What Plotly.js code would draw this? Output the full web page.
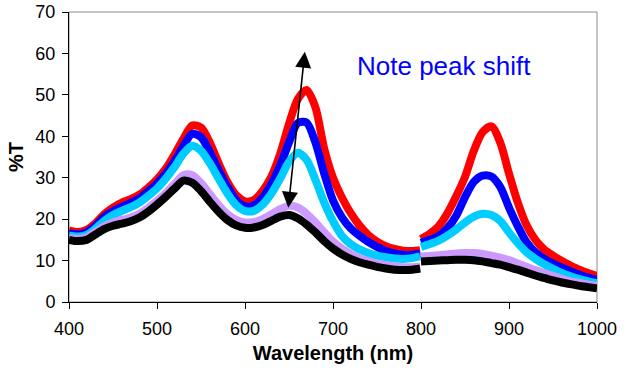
<!DOCTYPE html>
<html>
<head>
<meta charset="utf-8">
<script src="https://cdn.plot.ly/plotly-3.0.1.min.js"></script>
<style>html,body{margin:0;padding:0;background:#fff;}#chart{width:627px;height:370px;}</style>
</head>
<body>
<div id="chart"></div>
<script>
// Wavelength grid (nm); null entry separates the two detector ranges
const wavelength = [400,410,420,430,440,450,460,470,480,490,500,510,520,530,540,550,560,570,580,590,600,610,620,630,640,650,660,670,680,690,700,710,720,730,740,750,760,770,780,790,799,799.5,800,810,820,830,840,850,860,870,880,890,900,910,920,930,940,950,960,970,980,990,1000];

const redT = [17.3,16.9,17.4,19.0,21.2,22.8,24.0,24.8,25.9,27.6,29.6,32.2,35.6,39.4,42.6,42.1,38.5,33.5,29.0,25.8,24.3,24.6,26.8,30.3,35.8,43.0,49.0,51.2,47.0,37.0,30.0,25.3,21.5,18.5,16.2,14.6,13.5,12.8,12.4,12.3,12.5,null,15.2,16.5,18.3,21.4,25.5,30.2,36.5,41.0,42.4,38.5,31.0,24.0,18.5,15.0,12.7,11.2,9.9,8.8,7.8,7.0,6.3];

const blueT = [16.6,16.3,16.8,18.4,20.5,21.9,23.0,23.9,25.0,26.7,28.6,31.0,34.0,37.6,40.6,39.8,36.2,31.8,27.8,24.6,23.1,23.3,25.2,28.5,33.0,38.5,43.2,43.3,38.5,31.0,24.5,20.5,17.8,16.0,14.5,13.3,12.3,11.7,11.4,11.4,11.7,null,14.3,15.0,15.9,17.8,20.8,25.3,29.0,30.5,30.3,27.8,22.8,18.3,14.4,12.0,10.4,9.3,8.3,7.4,6.6,5.9,5.3];

const cyanT = [16.0,15.8,16.2,17.7,19.6,21.0,22.0,22.9,24.0,25.6,27.4,29.8,32.6,35.8,37.7,36.5,33.5,29.8,26.2,23.4,22.0,22.0,23.5,26.2,29.8,33.8,36.0,34.3,29.5,24.0,19.5,16.0,14.0,12.7,11.8,11.2,10.8,10.5,10.4,10.6,11.0,null,13.3,14.0,14.8,16.0,17.5,19.2,20.6,21.3,21.0,19.6,16.8,14.2,12.0,10.4,9.1,8.0,7.0,6.2,5.5,5.0,4.5];

const lavenderT = [15.4,15.2,15.6,16.9,18.3,19.2,19.8,20.4,21.3,22.7,24.4,26.3,28.5,30.6,30.6,28.7,26.0,23.4,21.2,19.8,19.2,19.3,20.0,21.2,22.4,23.2,22.8,21.3,19.2,16.8,14.6,12.9,11.6,10.6,9.9,9.3,8.9,8.6,8.4,8.4,8.6,null,11.0,11.1,11.3,11.5,11.7,11.8,11.8,11.6,11.2,10.7,10.1,9.3,8.5,7.7,7.0,6.3,5.6,5.0,4.6,4.2,3.9];

const blackT = [15.0,14.7,15.0,16.3,17.6,18.4,18.9,19.5,20.4,21.8,23.5,25.4,27.4,29.3,28.8,26.8,24.2,21.8,19.8,18.5,17.9,18.0,18.6,19.6,20.6,21.0,20.2,18.7,16.8,14.7,12.9,11.5,10.4,9.6,9.0,8.5,8.1,7.8,7.7,7.8,8.1,null,9.8,9.9,10.0,10.1,10.2,10.2,10.1,9.8,9.4,9.0,8.4,7.8,7.1,6.4,5.8,5.2,4.7,4.3,3.9,3.6,3.3];

const seriesNames = ["red","blue","cyan","lavender","black"];
const xTicks = [400,500,600,700,800,900,1000];
const yTicks = [0,10,20,30,40,50,60,70];
const noteText = "Note peak shift";
// Arrow between the low (tail) and high (head) ends of the peak-shift note, in data units
const arrowHead = [668, 60.4];
const arrowTail = [649, 22.4];

const colors = {red:"#FF0000", blue:"#0000FF", cyan:"#00CCFF", lavender:"#CC99FF", black:"#000000"};
const values = {red:redT, blue:blueT, cyan:cyanT, lavender:lavenderT, black:blackT};

const traces = seriesNames.map(n => ({
  type: "scatter", mode: "lines", x: wavelength, y: values[n], name: n,
  connectgaps: false,
  line: {color: colors[n], width: 8, shape: "spline", smoothing: 0.8},
  hoverinfo: "skip"
}));

const font = "Liberation Sans, Arial, sans-serif";
const layout = {
  width: 627, height: 370,
  margin: {l: 69, r: 30, t: 12, b: 68},
  paper_bgcolor: "#fff", plot_bgcolor: "#fff",
  showlegend: false,
  font: {family: font, color: "#000", size: 18},
  xaxis: {
    range: [400, 1000], tickvals: xTicks, ticktext: xTicks.map(String),
    ticks: "outside", ticklen: 6, tickcolor: "#000", tickwidth: 1,
    showline: true, linecolor: "#000", linewidth: 1, showgrid: false, zeroline: false,
    ticklabelstandoff: 4,
    tickfont: {family: font, size: 18, color: "#000"},
    title: {text: "<b>Wavelength (nm)</b>", font: {family: font, size: 20, color: "#000"}, standoff: 8}
  },
  yaxis: {
    range: [0, 70], tickvals: yTicks, ticktext: yTicks.map(String),
    ticks: "outside", ticklen: 6, tickcolor: "#000", tickwidth: 1,
    showline: true, linecolor: "#000", linewidth: 1, showgrid: false, zeroline: false,
    ticklabelstandoff: 3,
    tickfont: {family: font, size: 18, color: "#000"},
    title: {text: "<b>%T</b>", font: {family: font, size: 20, color: "#000"}, standoff: 6}
  },
  shapes: [{type: "rect", xref: "paper", yref: "paper", x0: 0, x1: 1, y0: 0, y1: 1,
            line: {color: "#8c8c8c", width: 1}, layer: "below"}],
  annotations: [
    {xref: "paper", yref: "paper", x: 0.71, y: 0.815, xanchor: "center", yanchor: "middle",
     text: noteText, showarrow: false, font: {family: font, size: 26, color: "#0000FF"}},
    {x: arrowHead[0], y: arrowHead[1], ax: arrowTail[0], ay: arrowTail[1],
     xref: "x", yref: "y", axref: "x", ayref: "y", text: "", showarrow: true,
     arrowside: "end+start", arrowhead: 2, arrowsize: 2, arrowwidth: 1.6, arrowcolor: "#000"}
  ]
};

Plotly.newPlot("chart", traces, layout, {staticPlot: true, displayModeBar: false});
</script>
</body>
</html>
